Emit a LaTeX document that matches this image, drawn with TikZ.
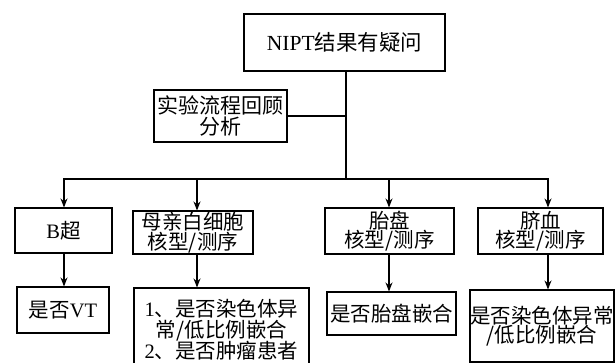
\documentclass[tikz,border=0pt]{standalone}
\usepackage{fontspec}
\setmainfont{Liberation Serif}
\newfontfamily\cjk{Noto Sans CJK SC}
\usetikzlibrary{arrows.meta}
\begin{document}
\begin{tikzpicture}[x=1pt,y=-1pt,
  box/.style={draw,line width=1.1pt,inner sep=0pt,align=center,font=\fontsize{20.5}{19}\selectfont\cjk},
  bigbox/.style={box,font=\fontsize{21.5}{21}\selectfont\cjk},
  conn/.style={line width=1.1pt},
  arr/.style={line width=1.1pt,-{Stealth[length=9pt,width=7pt]}}]
\useasboundingbox (0,0) rectangle (616,363);
\fill[white] (0,0) rectangle (616,363);

\node[bigbox,minimum width=201pt,minimum height=57pt] (top) at (344.5,42.5) {{\rmfamily NIPT}结果有疑问};
\node[bigbox,minimum width=133pt,minimum height=52pt,font=\fontsize{21}{19}\selectfont\cjk] (side) at (220.5,116) {实验流程回顾\\分析};

\coordinate (j) at (346,179);
\coordinate (bL) at (64,179);
\coordinate (c2) at (197,179);
\coordinate (c3) at (389,179);
\coordinate (bR) at (548,179);

\node[box,minimum width=97pt,minimum height=45pt] (b1) at (63.5,230.5) {{\rmfamily B}超};
\node[box,minimum width=92pt,minimum height=46pt] (r1) at (63,310) {是否{\rmfamily VT}};
\node[box,minimum width=120pt,minimum height=43pt] (b2) at (193,232.5) {母亲白细胞\\核型/测序};
\node[box,minimum width=175pt,minimum height=84pt,font=\fontsize{20.5}{21}\selectfont\cjk] (r2) at (221.5,330) {{\rmfamily 1}、是否染色体异\\常/低比例嵌合\\{\rmfamily 2}、是否肿瘤患者};
\node[box,minimum width=129pt,minimum height=46pt] (b3) at (389.5,231) {胎盘\\核型/测序};
\node[box,minimum width=129pt,minimum height=43pt] (r3) at (391.5,313.5) {是否胎盘嵌合};
\node[box,minimum width=144pt,minimum height=72pt] (r4) at (542,326) {是否染色体异常\\/低比例嵌合};
\node[box,minimum width=125pt,minimum height=46pt] (b4) at (540.5,231) {脐血\\核型/测序};

\draw[conn] (top.south -| j) -- (j);
\draw[conn] (side.east) -- (side.east -| j);
\draw[conn,line cap=rect] (bL) -- (bR);

\draw[arr] (bL) -- (b1.north -| bL);
\draw[arr] (b1.south -| bL) -- (r1.north -| bL);
\draw[arr] (c2) -- (b2.north -| c2);
\draw[arr] (b2.south -| c2) -- (r2.north -| c2);
\draw[arr] (c3) -- (b3.north -| c3);
\draw[arr] (b3.south -| c3) -- (r3.north -| c3);
\draw[arr] (bR) -- (b4.north -| bR);
\draw[arr] (b4.south -| bR) -- (r4.north -| bR);
\end{tikzpicture}
\end{document}
